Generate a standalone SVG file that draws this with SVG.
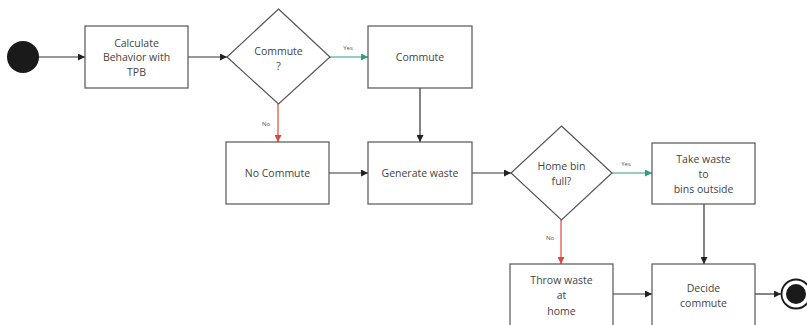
<svg xmlns="http://www.w3.org/2000/svg" width="807" height="325" viewBox="0 0 807 325">
  <defs>
    <marker id="arrowDark" viewBox="0 0 10 10" refX="10" refY="5" markerWidth="7" markerHeight="7" orient="auto" markerUnits="userSpaceOnUse">
      <path d="M0,0 L10,5 L0,10 z" fill="#222"/>
    </marker>
    <marker id="arrowGreen" viewBox="0 0 10 10" refX="10" refY="5" markerWidth="7" markerHeight="7" orient="auto" markerUnits="userSpaceOnUse">
      <path d="M0,0 L10,5 L0,10 z" fill="#2f9e7e"/>
    </marker>
    <marker id="arrowRed" viewBox="0 0 10 10" refX="10" refY="5" markerWidth="7" markerHeight="7" orient="auto" markerUnits="userSpaceOnUse">
      <path d="M0,0 L10,5 L0,10 z" fill="#e0463b"/>
    </marker>
  </defs>
  <style>
    .box { fill: #ffffff; stroke: #555555; stroke-width: 1.2; }
    .lbl { font-family: "Open Sans", "Noto Sans", sans-serif; font-size: 10.5px; fill: #444444; text-anchor: middle; dominant-baseline: central; }
    .tiny { font-family: "Open Sans", "Noto Sans", sans-serif; font-size: 6px; fill: #555555; text-anchor: middle; dominant-baseline: central; }
    .edge { fill: none; stroke: #333333; stroke-width: 1.2; marker-end: url(#arrowDark); }
    .yes { fill: none; stroke: #2f9e7e; stroke-width: 1.2; marker-end: url(#arrowGreen); }
    .no { fill: none; stroke: #e0463b; stroke-width: 1.2; marker-end: url(#arrowRed); }
  </style>
  <rect width="807" height="325" fill="#ffffff"/>

  <g id="connectors">
    <path class="edge" d="M39,57 H85"/>
    <path class="edge" d="M188,57 H227"/>
    <path class="yes" d="M330,57 H368"/>
    <text class="tiny" x="348" y="48">Yes</text>
    <path class="no" d="M278,104 V142"/>
    <text class="tiny" x="266" y="124">No</text>
    <path class="edge" d="M420,88 V142"/>
    <path class="edge" d="M329,173 H368"/>
    <path class="edge" d="M472,173 H511"/>
    <path class="yes" d="M612,173 H652"/>
    <text class="tiny" x="626" y="164">Yes</text>
    <path class="no" d="M561,220 V264"/>
    <text class="tiny" x="550" y="238">No</text>
    <path class="edge" d="M704,204 V264"/>
    <path class="edge" d="M613,294 H652"/>
    <path class="edge" d="M755,294 H781"/>
  </g>

  <g id="start">
    <circle cx="23" cy="57" r="16" fill="#1a1a1a"/>
  </g>

  <g id="calculate">
    <rect class="box" x="85" y="26" width="103" height="62"/>
    <text class="lbl" x="136.5" y="43">Calculate</text>
    <text class="lbl" x="136.5" y="57">Behavior with</text>
    <text class="lbl" x="136.5" y="72">TPB</text>
  </g>

  <g id="commute-decision">
    <polygon class="box" points="278.5,9 330,57 278.5,104 227,57"/>
    <text class="lbl" x="278.5" y="51">Commute</text>
    <text class="lbl" x="278.5" y="66">?</text>
  </g>

  <g id="commute">
    <rect class="box" x="368" y="26" width="104" height="62"/>
    <text class="lbl" x="420" y="57">Commute</text>
  </g>

  <g id="no-commute">
    <rect class="box" x="226" y="142" width="103" height="62"/>
    <text class="lbl" x="277.5" y="173">No Commute</text>
  </g>

  <g id="generate-waste">
    <rect class="box" x="368" y="142" width="104" height="62"/>
    <text class="lbl" x="420" y="173">Generate waste</text>
  </g>

  <g id="bin-decision">
    <polygon class="box" points="561.5,126 612,173 561.5,220 511,173"/>
    <text class="lbl" x="561.5" y="166">Home bin</text>
    <text class="lbl" x="561.5" y="181">full?</text>
  </g>

  <g id="take-waste">
    <rect class="box" x="652" y="143" width="103" height="61"/>
    <text class="lbl" x="703.5" y="159">Take waste</text>
    <text class="lbl" x="703.5" y="174">to</text>
    <text class="lbl" x="703.5" y="189">bins outside</text>
  </g>

  <g id="throw-waste">
    <rect class="box" x="510" y="264" width="103" height="62"/>
    <text class="lbl" x="561.5" y="280">Throw waste</text>
    <text class="lbl" x="561.5" y="295">at</text>
    <text class="lbl" x="561.5" y="311">home</text>
  </g>

  <g id="decide-commute">
    <rect class="box" x="652" y="264" width="103" height="62"/>
    <text class="lbl" x="703.5" y="288">Decide</text>
    <text class="lbl" x="703.5" y="303">commute</text>
  </g>

  <g id="end">
    <circle cx="796" cy="294" r="14.5" fill="#ffffff" stroke="#1a1a1a" stroke-width="1.8"/>
    <circle cx="796" cy="294" r="10" fill="#1a1a1a"/>
  </g>
</svg>
